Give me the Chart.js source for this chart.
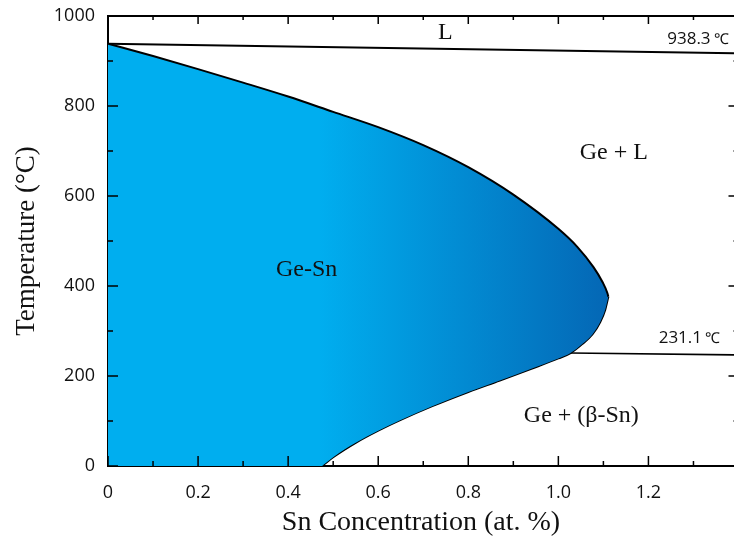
<!DOCTYPE html>
<html>
<head>
<meta charset="utf-8">
<script src="https://cdn.jsdelivr.net/npm/chart.js@4.4.1/dist/chart.umd.min.js"></script>
<style>
  html, body { margin: 0; padding: 0; background: #fff; }
  #wrap { width: 734px; height: 548px; }
</style>
</head>
<body>
<div id="wrap"><canvas id="phaseChart"></canvas></div>
<script>
// Ge-Sn phase diagram, Ge-rich corner
const xTickLabels = ["0", "0.2", "0.4", "0.6", "0.8", "1.0", "1.2"];
const yTickLabels = ["0", "200", "400", "600", "800", "1000"];

const geMelt = 938.3;
const snMelt = 231.1;

// solidus: pure Ge down to the retrograde maximum
const solidusX = [0, 0.1, 0.2, 0.3, 0.4, 0.5, 0.6, 0.7, 0.8, 0.9, 1.0, 1.042, 1.078, 1.098, 1.109, 1.111];
const solidusY = [938.3, 911, 882, 852, 821, 787, 753, 713, 664, 603, 527, 487, 442, 409, 384, 376];

// solvus: lower edge of the Ge-Sn field
const solvusX = [0, 0.475, 0.48, 0.5, 0.55, 0.6, 0.65, 0.72, 0.8, 0.87, 0.94, 1.0, 1.027, 1.053, 1.076, 1.093, 1.104, 1.111];
const solvusY = [0, 0, 4, 19.5, 51.5, 78.5, 102.5, 133, 164.5, 190, 216, 239, 251, 271, 293, 320, 347, 376];

// liquidus and eutectic lines
const liquidusX = [0, 1.39];
const liquidusY = [938.3, 917];
const eutecticX = [1.027, 1.39];
const eutecticY = [251, 247];

const pts = (xs, ys) => xs.map((v, i) => ({ x: v, y: ys[i] }));

function fieldFill(context) {
  const chart = context.chart;
  if (!chart.chartArea) return "#00AEEF";
  const x = chart.scales.x;
  const g = chart.ctx.createLinearGradient(x.getPixelForValue(0.47), 0, x.getPixelForValue(1.11), 0);
  g.addColorStop(0, "#00AEEF");
  g.addColorStop(1, "#0467B5");
  return g;
}

// inward tick marks on all four sides + top frame line
const frameTicks = {
  id: "frameTicks",
  afterDatasetsDraw(chart) {
    const { ctx, chartArea: a, scales: { x, y } } = chart;
    const rightPx = x.getPixelForValue(1.4);
    ctx.save();
    ctx.strokeStyle = "#000";
    ctx.lineWidth = 2;
    ctx.beginPath();
    ctx.moveTo(a.left, a.top);
    ctx.lineTo(a.right, a.top);
    ctx.stroke();
    ctx.lineWidth = 1.5;
    x.ticks.forEach(t => {
      const px = x.getPixelForValue(t.value);
      const major = t.label !== "";
      ctx.beginPath();
      ctx.moveTo(px, a.bottom);
      ctx.lineTo(px, a.bottom - (major ? 10 : 5));
      ctx.moveTo(px, a.top);
      ctx.lineTo(px, a.top + (major ? 8 : 4));
      ctx.stroke();
    });
    y.ticks.forEach(t => {
      const py = y.getPixelForValue(t.value);
      const major = t.label !== "";
      ctx.beginPath();
      ctx.moveTo(a.left, py);
      ctx.lineTo(a.left + (major ? 10 : 5), py);
      ctx.moveTo(rightPx, py);
      ctx.lineTo(rightPx - (major ? 10 : 5), py);
      ctx.stroke();
    });
    ctx.restore();
  }
};

// region names and the two reference temperatures
const phaseLabels = {
  id: "phaseLabels",
  afterDatasetsDraw(chart) {
    const { ctx, scales: { x, y } } = chart;
    ctx.save();
    ctx.fillStyle = "#111";
    ctx.textBaseline = "middle";
    ctx.textAlign = "center";
    ctx.font = "24px 'Liberation Serif'";
    ctx.fillText("L", x.getPixelForValue(0.749), y.getPixelForValue(962));
    ctx.fillText("Ge + L", x.getPixelForValue(1.123), y.getPixelForValue(696));
    ctx.fillText("Ge-Sn", x.getPixelForValue(0.441), y.getPixelForValue(436));
    ctx.fillText("Ge + (β-Sn)", x.getPixelForValue(1.051), y.getPixelForValue(111));

    const temps = [
      { t: geMelt, x: 1.338, y: 949 },
      { t: snMelt, x: 1.319, y: 284 }
    ];
    temps.forEach(o => {
      const px = x.getPixelForValue(o.x);
      const py = y.getPixelForValue(o.y);
      ctx.textAlign = "right";
      ctx.font = "17px 'Open Sans'";
      ctx.fillText(o.t.toFixed(1), px, py);
      ctx.textAlign = "left";
      ctx.font = "15px 'Liberation Serif'";
      ctx.fillText("℃", px + 3, py + 1);
    });
    ctx.restore();
  }
};

const ctx = document.getElementById("phaseChart").getContext("2d");

new Chart(ctx, {
  type: "line",
  data: {
    datasets: [
      {
        label: "solidus",
        data: pts(solidusX, solidusY),
        borderColor: "#000",
        borderWidth: 2,
        backgroundColor: fieldFill,
        fill: "+1",
        cubicInterpolationMode: "monotone",
        pointRadius: 0
      },
      {
        label: "solvus",
        data: pts(solvusX, solvusY),
        borderColor: "#000",
        borderWidth: 2,
        fill: false,
        cubicInterpolationMode: "monotone",
        pointRadius: 0
      },
      {
        label: "liquidus",
        data: pts(liquidusX, liquidusY),
        borderColor: "#000",
        borderWidth: 2,
        fill: false,
        pointRadius: 0
      },
      {
        label: "eutectic",
        data: pts(eutecticX, eutecticY),
        borderColor: "#000",
        borderWidth: 1.6,
        fill: false,
        pointRadius: 0
      }
    ]
  },
  options: {
    responsive: true,
    maintainAspectRatio: false,
    animation: false,
    layout: { padding: { top: 16, right: 0, left: 0, bottom: 0 } },
    plugins: {
      legend: { display: false },
      tooltip: { enabled: false }
    },
    scales: {
      x: {
        type: "linear",
        min: 0,
        max: 1.39,
        afterFit(scale) {
          scale.height = 82;
          scale.paddingLeft = 0;
          scale.paddingRight = 0;
        },
        grid: { display: false, drawTicks: false },
        border: { display: true, color: "#000", width: 2 },
        ticks: {
          stepSize: 0.1,
          includeBounds: false,
          autoSkip: false,
          maxRotation: 0,
          padding: 16,
          color: "#111",
          font: { family: "'Open Sans'", size: 18 },
          callback: v => {
            const i = Math.round(v * 10);
            return i % 2 === 0 ? xTickLabels[i / 2] : "";
          }
        },
        title: {
          display: true,
          text: "Sn Concentration (at. %)",
          color: "#111",
          font: { family: "'Liberation Serif'", size: 28 },
          padding: { top: 0, bottom: 9 }
        }
      },
      y: {
        min: 0,
        max: 1000,
        afterFit(scale) {
          scale.width = 108;
          scale.paddingTop = 0;
          scale.paddingBottom = 0;
        },
        grid: { display: false, drawTicks: false },
        border: { display: true, color: "#000", width: 2 },
        ticks: {
          stepSize: 100,
          autoSkip: false,
          padding: 13,
          color: "#111",
          font: { family: "'Open Sans'", size: 18 },
          callback: v => {
            const i = Math.round(v / 100);
            return i % 2 === 0 ? yTickLabels[i / 2] : "";
          }
        },
        title: {
          display: true,
          text: "Temperature (°C)",
          color: "#111",
          font: { family: "'Liberation Serif'", size: 27 },
          padding: { top: 11, bottom: 0 }
        }
      }
    }
  },
  plugins: [frameTicks, phaseLabels]
});
</script>
</body>
</html>
